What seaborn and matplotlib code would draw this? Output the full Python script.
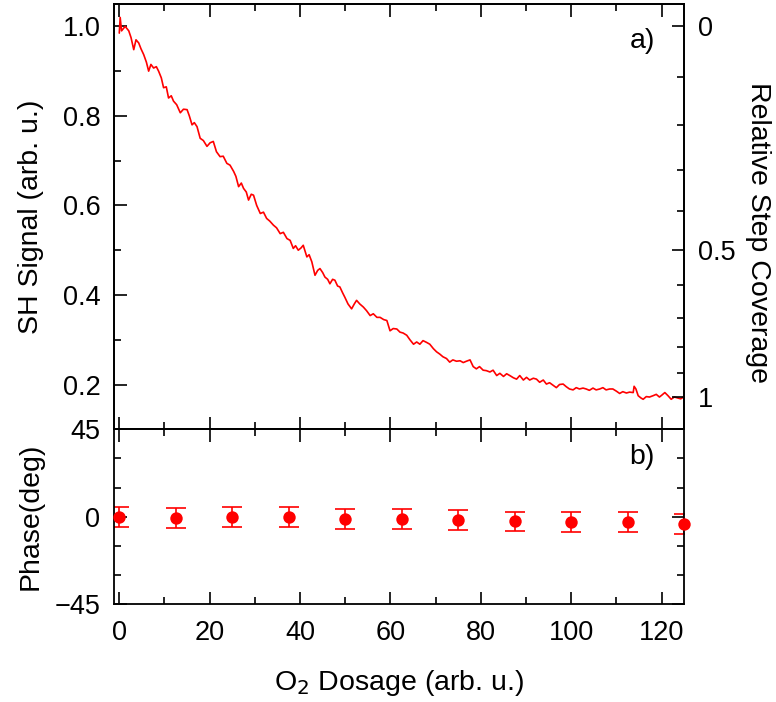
import numpy as np
import pandas as pd
import matplotlib
matplotlib.use("Agg")
import matplotlib.pyplot as plt
from matplotlib.ticker import MultipleLocator, FixedLocator
import seaborn as sns

# ---------------- data ----------------
dosage = [0.0, 0.2, 0.5, 1.3, 2.1, 2.6, 3.2, 3.7, 4.3, 4.8, 5.4, 6.0, 6.5, 7.0, 7.6, 8.2, 8.7, 9.3,
          9.8, 10.4, 10.9, 11.5, 12.0, 12.7, 13.5, 14.2, 15.0, 15.5, 16.1, 16.6, 17.2, 17.9, 18.6,
          19.4, 20.1, 20.8, 21.5, 22.3, 23.0, 23.8, 24.5, 25.3, 25.8, 26.4, 27.0, 27.5, 28.1, 28.6,
          29.2, 29.7, 30.4, 31.2, 31.9, 32.6, 33.3, 34.1, 34.8, 35.6, 36.3, 37.1, 37.8, 38.5, 39.0,
          39.6, 40.2, 40.7, 41.5, 42.0, 42.6, 43.3, 43.9, 44.4, 45.0, 45.5, 46.1, 46.6, 47.2, 47.7,
          48.3, 48.8, 49.4, 49.9, 50.6, 51.4, 52.0, 52.5, 53.2, 54.0, 54.7, 55.5, 56.2, 57.0, 57.7,
          58.5, 59.2, 59.9, 60.6, 61.4, 62.1, 62.8, 63.6, 64.3, 65.1, 65.8, 66.5, 67.2, 68.0, 68.7,
          69.5, 70.2, 70.9, 71.6, 72.4, 73.1, 73.8, 74.6, 75.4, 76.1, 76.8, 77.6, 78.3, 79.0, 79.7,
          80.5, 81.2, 82.0, 82.7, 83.5, 84.2, 85.0, 85.7, 86.4, 87.2, 87.9, 88.6, 89.4, 90.1, 90.8,
          91.6, 92.3, 93.0, 93.8, 94.5, 95.2, 96.0, 96.7, 97.4, 98.2, 98.9, 99.6, 100.4, 101.1,
          101.8, 102.6, 103.3, 104.0, 104.8, 105.5, 106.3, 107.0, 107.7, 108.5, 109.2, 110.0,
          110.7, 111.4, 112.2, 112.9, 113.7, 113.9, 114.3, 114.8, 115.4, 115.9, 116.6, 117.3,
          118.1, 118.8, 119.5, 120.0, 120.7, 121.4, 122.1, 122.8, 123.5, 124.2, 124.7, 125.0]
sh_signal = [0.985, 1.02, 0.99, 1.0, 0.99, 0.975, 0.948, 0.97, 0.963, 0.95, 0.937, 0.92, 0.90, 0.915,
             0.907, 0.91, 0.90, 0.885, 0.863, 0.865, 0.84, 0.845, 0.833, 0.825, 0.807, 0.815, 0.814,
             0.80, 0.78, 0.785, 0.776, 0.75, 0.745, 0.732, 0.74, 0.743, 0.72, 0.709, 0.71, 0.694,
             0.69, 0.676, 0.665, 0.642, 0.65, 0.638, 0.63, 0.612, 0.625, 0.623, 0.60, 0.582, 0.585,
             0.571, 0.565, 0.556, 0.55, 0.537, 0.54, 0.526, 0.522, 0.504, 0.51, 0.50, 0.505, 0.511,
             0.485, 0.49, 0.474, 0.444, 0.455, 0.459, 0.45, 0.44, 0.435, 0.425, 0.435, 0.433, 0.42,
             0.418, 0.405, 0.395, 0.38, 0.369, 0.38, 0.388, 0.38, 0.373, 0.365, 0.354, 0.358, 0.35,
             0.35, 0.345, 0.343, 0.32, 0.325, 0.324, 0.317, 0.315, 0.31, 0.30, 0.29, 0.295, 0.29,
             0.298, 0.294, 0.29, 0.28, 0.273, 0.268, 0.262, 0.258, 0.25, 0.255, 0.252, 0.253, 0.249,
             0.252, 0.255, 0.24, 0.235, 0.24, 0.232, 0.231, 0.228, 0.232, 0.22, 0.225, 0.218, 0.224,
             0.22, 0.215, 0.212, 0.22, 0.21, 0.216, 0.21, 0.214, 0.212, 0.205, 0.21, 0.201, 0.204,
             0.198, 0.193, 0.20, 0.201, 0.195, 0.19, 0.188, 0.193, 0.19, 0.192, 0.19, 0.187, 0.192,
             0.188, 0.19, 0.193, 0.188, 0.19, 0.19, 0.185, 0.18, 0.184, 0.181, 0.183, 0.182, 0.196,
             0.19, 0.175, 0.17, 0.167, 0.173, 0.172, 0.175, 0.178, 0.172, 0.176, 0.182, 0.175, 0.167,
             0.172, 0.17, 0.168, 0.171, 0.175]

phase_dosage = [0, 12.5, 25, 37.5, 50, 62.5, 75, 87.5, 100, 112.5, 125]
phase_deg = [0.0, -0.8, -0.3, -0.3, -1.3, -1.2, -1.7, -2.4, -2.7, -2.9, -3.6]
phase_err = [5.1, 5.1, 5.1, 5.1, 5.1, 5.1, 5.1, 5.1, 5.1, 5.1, 5.1]

coverage_ticks = [0.0, 0.1, 0.2, 0.3, 0.4, 0.5, 0.6, 0.7, 0.8, 0.9, 1.0]
coverage_major = [0.0, 0.5, 1.0]
coverage_labels = ["0", "0.5", "1"]
signal_major = [0.2, 0.4, 0.6, 0.8, 1.0]
signal_labels = ["0.2", "0.4", "0.6", "0.8", "1.0"]
phase_major = [-45, 0, 45]
phase_labels = ["\u221245", "0", "45"]

# ---------------- style ----------------
sns.set_theme(style="ticks")
plt.rcParams["font.family"] = ["Liberation Sans", "DejaVu Sans"]
plt.rcParams.update({
    "axes.linewidth": 1.3,
    "text.color": "black",
    "axes.labelcolor": "black",
    "xtick.color": "black",
    "ytick.color": "black",
    "axes.edgecolor": "black",
})
RED = "#ff0000"
FS_TICK = 19.5
FS_LAB = 20.5

W, H = 776, 702
fig = plt.figure(figsize=(W / 100, H / 100), dpi=100)
ax1 = fig.add_axes([0.1473, 0.3885, 0.7345, 0.6058])
ax2 = fig.add_axes([0.1473, 0.1392, 0.7345, 0.2493])

df = pd.DataFrame({"dosage": dosage, "signal": sh_signal})
sns.lineplot(data=df, x="dosage", y="signal", ax=ax1, color=RED, lw=1.2,
             estimator=None, sort=False)

# top panel axes
ax1.set_xlim(-1.1, 125)
ax1.set_ylim(0.1, 1.05)
ax1.set_xlabel("")
ax1.set_ylabel("")
ax1.xaxis.set_major_locator(MultipleLocator(20))
ax1.xaxis.set_minor_locator(MultipleLocator(10))
ax1.yaxis.set_major_locator(FixedLocator(signal_major))
ax1.yaxis.set_minor_locator(FixedLocator([0.3, 0.5, 0.7, 0.9]))
ax1.set_yticklabels(signal_labels)
ax1.tick_params(axis="x", which="both", direction="in", top=True, bottom=True,
                labelbottom=False)
ax1.tick_params(axis="y", which="both", direction="in", left=True, right=False,
                labelsize=FS_TICK, pad=10)
ax1.tick_params(which="major", length=9, width=1.2)
ax1.tick_params(which="minor", length=5, width=1.2)
ax1.text(0.926, 0.913, "a)", transform=ax1.transAxes, fontsize=FS_LAB,
         ha="center", va="center")

# right axis: relative step coverage, S = (1 - 0.584*theta)^2
def cov_to_signal(t):
    return (1 - 0.584 * t) ** 2

axr = ax1.twinx()
axr.set_ylim(ax1.get_ylim())
axr.yaxis.set_major_locator(FixedLocator([cov_to_signal(t) for t in coverage_major]))
axr.yaxis.set_minor_locator(FixedLocator([cov_to_signal(t) for t in coverage_ticks
                                          if t not in coverage_major]))
axr.set_yticklabels(coverage_labels)
axr.tick_params(axis="y", which="both", direction="in", labelsize=FS_TICK, pad=10)
axr.tick_params(which="major", length=9, width=1.2)
axr.tick_params(which="minor", length=5, width=1.2)

# bottom panel: phase
ax2.errorbar(phase_dosage, phase_deg, yerr=phase_err, fmt="none", ecolor=RED,
             elinewidth=1.2, capsize=7.5, capthick=1.2)
sns.scatterplot(x=phase_dosage, y=phase_deg, ax=ax2, color=RED, s=80,
                edgecolor=RED, linewidth=0, zorder=5, clip_on=False)
ax2.set_xlim(-1.1, 125)
ax2.set_ylim(-45, 45)
ax2.xaxis.set_major_locator(MultipleLocator(20))
ax2.xaxis.set_minor_locator(MultipleLocator(10))
ax2.yaxis.set_major_locator(FixedLocator(phase_major))
ax2.yaxis.set_minor_locator(FixedLocator([-30, -15, 15, 30]))
ax2.set_yticklabels(phase_labels)
ax2.tick_params(which="both", direction="in", top=True, right=True,
                labelsize=FS_TICK)
ax2.tick_params(axis="x", which="both", pad=11)
ax2.tick_params(axis="y", which="both", pad=10)
ax2.tick_params(which="major", length=9, width=1.2)
ax2.tick_params(which="minor", length=5, width=1.2)
ax2.set_xlabel("")
ax2.set_ylabel("")
ax2.text(0.926, 0.839, "b)", transform=ax2.transAxes, fontsize=FS_LAB,
         ha="center", va="center")

# axis titles placed in figure pixels
def fx(px):
    return px / W

def fy(py):
    return 1 - py / H

fig.text(fx(31), fy(217), "SH Signal (arb. u.)", fontsize=FS_LAB, rotation=90,
         ha="center", va="center")
fig.text(fx(31), fy(516), "Phase(deg)", fontsize=FS_LAB, rotation=90,
         ha="center", va="center")
fig.text(fx(758), fy(232), "Relative Step Coverage", fontsize=FS_LAB, rotation=-90,
         ha="center", va="center")
fig.text(fx(399), fy(683), "O$_2$ Dosage (arb. u.)", fontsize=FS_LAB,
         ha="center", va="center")

for a in (ax1, ax2, axr):
    for s in a.spines.values():
        s.set_linewidth(1.3)
        s.set_color("black")

fig.savefig("out.png", dpi=100)
